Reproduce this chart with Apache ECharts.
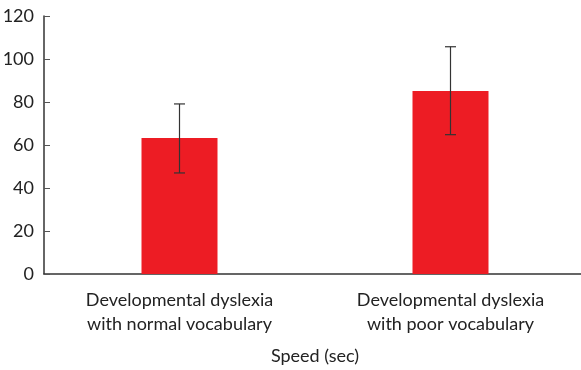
<!DOCTYPE html>
<html><head><meta charset="utf-8">
<script src="https://cdn.jsdelivr.net/npm/echarts@6/dist/echarts.min.js"></script>
<style>html,body{margin:0;padding:0;background:#fff}#c{width:581px;height:370px}</style>
</head><body><div id="c"></div>
<script>
var categories = ['Developmental dyslexia\nwith normal vocabulary', 'Developmental dyslexia\nwith poor vocabulary'];
var means = [63.3, 85.1];
var errLow = [47.0, 64.8];
var errHigh = [79.1, 105.7];
var yTicks = [0, 20, 40, 60, 80, 100, 120];

var chart = echarts.init(document.getElementById('c'));
var font = 'Lato';
chart.setOption({
  animation: false,
  grid: {left: 44, right: -5, top: 16, bottom: 96, outerBoundsMode: 'none', containLabel: false},
  xAxis: {
    type: 'category', data: categories,
    axisLine: {lineStyle: {color: '#333', width: 1.5}},
    axisTick: {show: false},
    axisLabel: {color: '#222', fontFamily: font, fontSize: 18, lineHeight: 24, margin: 14},
    name: 'Speed (sec)', nameLocation: 'middle', nameGap: 73,
    nameTextStyle: {color: '#222', fontFamily: font, fontSize: 18}
  },
  yAxis: {
    type: 'value', min: 0, max: 120, interval: 20,
    splitLine: {show: false},
    axisLine: {show: true, lineStyle: {color: '#333', width: 1.5}},
    axisTick: {show: true, inside: true, length: 6, lineStyle: {color: '#555'}},
    axisLabel: {color: '#222', fontFamily: font, fontSize: 18, margin: 10}
  },
  series: [{
    type: 'bar', data: means, barWidth: 76,
    itemStyle: {color: '#ED1C24'}
  }, {
    type: 'custom',
    data: categories.map(function (c, i) { return [i, errLow[i], errHigh[i]]; }),
    renderItem: function (params, api) {
      var lo = api.coord([api.value(0), api.value(1)]);
      var hi = api.coord([api.value(0), api.value(2)]);
      var w = 5.5;
      var st = {stroke: '#333', lineWidth: 1.2};
      return {type: 'group', children: [
        {type: 'line', shape: {x1: hi[0], y1: hi[1], x2: lo[0], y2: lo[1]}, style: st},
        {type: 'line', shape: {x1: hi[0]-w, y1: hi[1], x2: hi[0]+w, y2: hi[1]}, style: st},
        {type: 'line', shape: {x1: lo[0]-w, y1: lo[1], x2: lo[0]+w, y2: lo[1]}, style: st}
      ]};
    },
    z: 10
  }]
});
</script></body></html>
